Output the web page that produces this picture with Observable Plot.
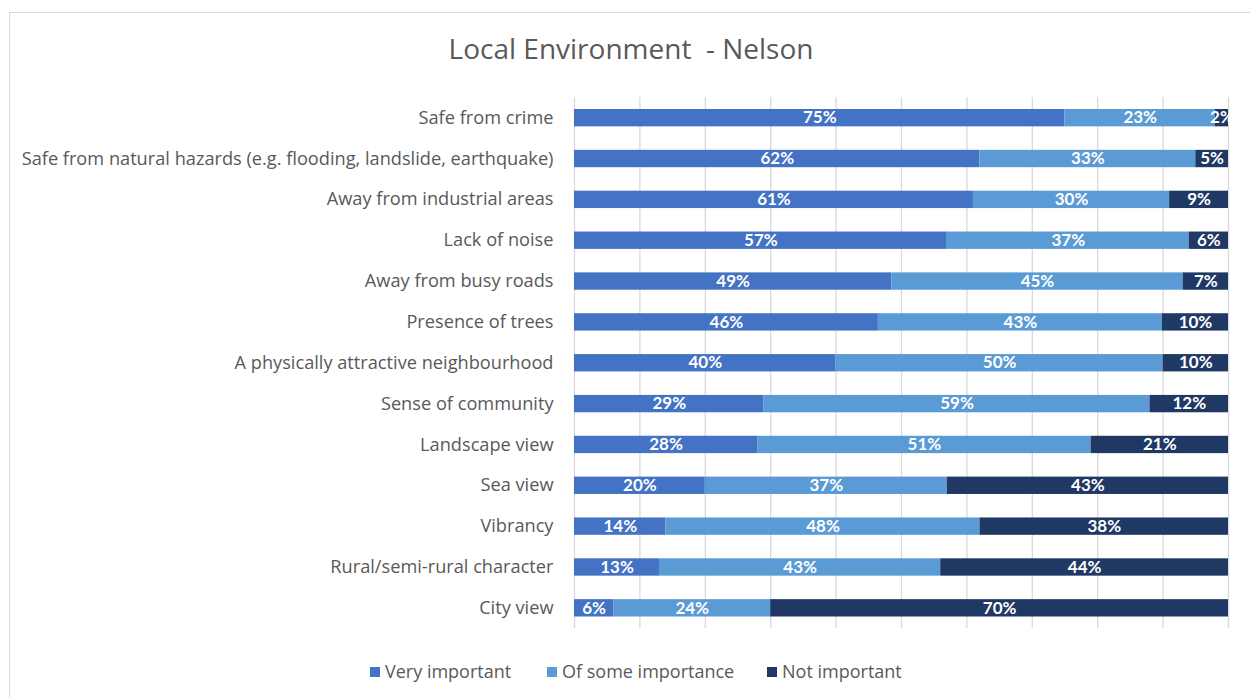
<!DOCTYPE html>
<html>
<head>
<meta charset="utf-8">
<script src="https://cdn.jsdelivr.net/npm/d3@7"></script>
<script src="https://cdn.jsdelivr.net/npm/@observablehq/plot@0.6"></script>
<style>
  html, body { margin: 0; padding: 0; background: #fff; width: 1250px; height: 697px; overflow: hidden; }
  #frame { position: absolute; left: 9px; top: 12px; width: 1300px; height: 800px; border: 1px solid #d9d9d9; box-sizing: border-box; }
  #title { position: absolute; left: 0; top: 29px; width: 1262px; text-align: center; font-family: "Open Sans", Lato, sans-serif; font-size: 28px; color: #595959; white-space: pre; }
  #chart { position: absolute; left: 0; top: 0; }
  #legend { position: absolute; top: 659px; left: 0; width: 1250px; font-family: "Open Sans", Lato, sans-serif; font-size: 18px; color: #595959; }
  .item { position: absolute; top: 0; white-space: nowrap; line-height: 24px; }
  .sw { display: inline-block; width: 10px; height: 10px; margin-right: 5px; vertical-align: 1px; }
</style>
</head>
<body>
<div id="frame"></div>
<div id="chart"></div>
<div id="title">Local Environment  - Nelson</div>
<div id="legend"></div>
<script>
const categories = [
  "Safe from crime",
  "Safe from natural hazards (e.g. flooding, landslide, earthquake)",
  "Away from industrial areas",
  "Lack of noise",
  "Away from busy roads",
  "Presence of trees",
  "A physically attractive neighbourhood",
  "Sense of community",
  "Landscape view",
  "Sea view",
  "Vibrancy",
  "Rural/semi-rural character",
  "City view"
];
const series = ["Very important", "Of some importance", "Not important"];
const veryImportant   = [75, 62, 61, 57, 49, 46, 40, 29, 28, 20, 14, 13, 6];
const someImportance  = [23, 33, 30, 37, 45, 43, 50, 59, 51, 37, 48, 43, 24];
const notImportant    = [2, 5, 9, 6, 7, 10, 10, 12, 21, 43, 38, 44, 70];
const colors = ["#4472C4", "#5B9BD5", "#203864"];
const gridTicks = [0, 0.1, 0.2, 0.3, 0.4, 0.5, 0.6, 0.7, 0.8, 0.9, 1];

const valuesBySeries = [veryImportant, someImportance, notImportant];
const rows = [];
series.forEach((s, si) => {
  categories.forEach((c, ci) => {
    rows.push({category: c, series: s, value: valuesBySeries[si][ci]});
  });
});

const chart = Plot.plot({
  width: 1250,
  height: 697,
  marginTop: 97,
  marginBottom: 69,
  marginLeft: 574,
  marginRight: 22,
  style: {background: "transparent", fontFamily: "'Open Sans', Lato, sans-serif"},
  x: {domain: [0, 1], axis: null},
  y: {domain: categories, padding: 0, round: false, axis: null},
  color: {domain: series, range: colors},
  marks: [
    Plot.ruleX(gridTicks, {stroke: "#d9d9d9", strokeWidth: 1.3}),
    Plot.barX(rows, Plot.stackX({
      offset: "normalize",
      x: "value", y: "category", fill: "series",
      insetTop: 12, insetBottom: 11.5
    })),
    Plot.textX(rows, Plot.stackX({
      offset: "normalize",
      x: "value", y: "category",
      text: d => d.value + "%",
      fill: "white", fontWeight: "bold", fontSize: 17,
      fontFamily: "Lato, 'Open Sans', sans-serif"
    })),
    Plot.axisY({
      domain: categories, tickSize: 0, tickPadding: 21, label: null,
      fontSize: 18.2, color: "#595959"
    })
  ]
});
document.getElementById("chart").appendChild(chart);

const legendPos = [370, 547, 767];
const legend = document.getElementById("legend");
series.forEach((s, i) => {
  const el = document.createElement("div");
  el.className = "item";
  el.style.left = legendPos[i] + "px";
  el.innerHTML = `<span class="sw" style="background:${colors[i]}"></span>${s}`;
  legend.appendChild(el);
});
</script>
</body>
</html>
